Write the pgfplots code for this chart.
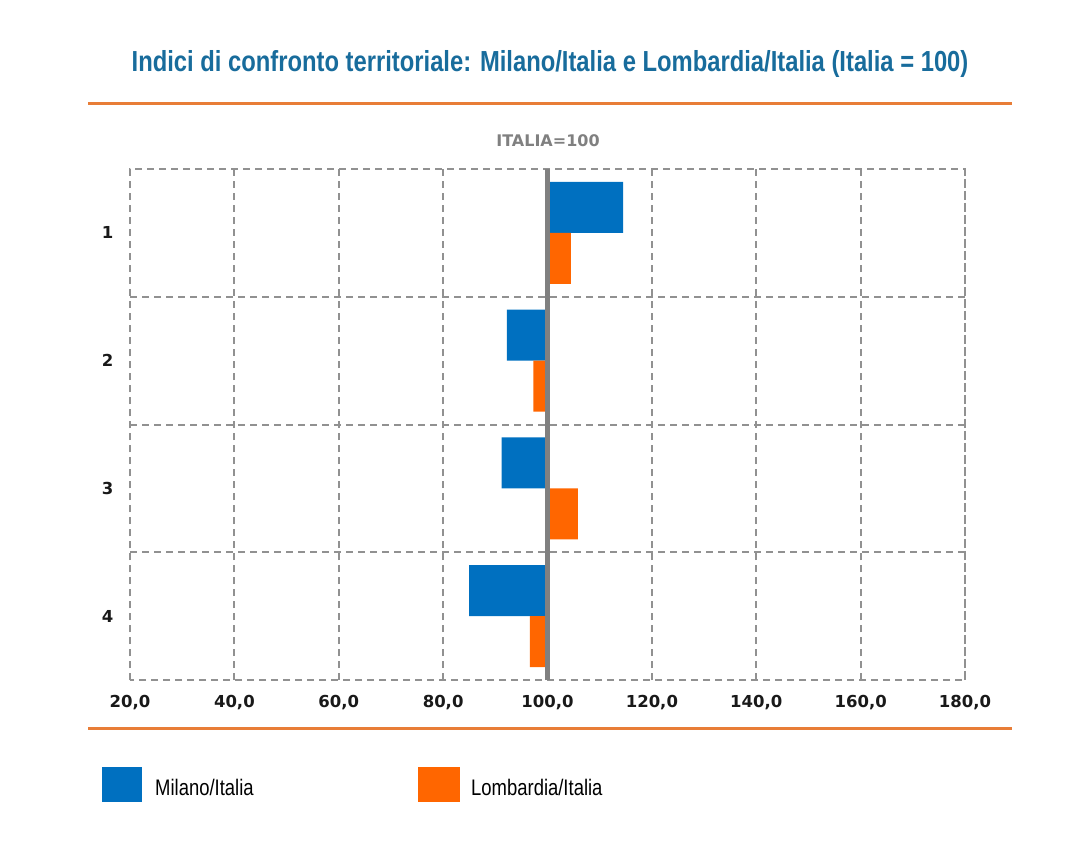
\documentclass[border=0pt]{standalone}
\usepackage{fontspec}
\usepackage{pgfplots}
\pgfplotsset{compat=1.18}
\usepackage{pgfplotstable}
\newfontfamily\narrowfont{Liberation Sans}[FakeStretch=0.82]
\newfontfamily\tickfont{DejaVu Sans}
\definecolor{titleblue}{RGB}{24,108,156}
\definecolor{rule}{RGB}{232,125,55}
\definecolor{barblue}{RGB}{0,112,192}
\definecolor{barorange}{RGB}{255,102,0}
\definecolor{gridgray}{RGB}{145,145,145}
\definecolor{refgray}{RGB}{128,128,128}
\pgfplotstableread{
row v
4 114.5
3 92.2
2 91.2
1 85.0
}\milano
\pgfplotstableread{
row v
4 104.5
3 97.3
2 105.8
1 96.6
}\lombardia
\begin{document}
\begin{tikzpicture}
\path[use as bounding box] (0,0) rectangle (1087pt,-842pt);
\node[anchor=base, text=titleblue, font=\narrowfont\bfseries\fontsize{29}{34}\selectfont] at (550pt,-72pt) {Indici di confronto territoriale: Milano/Italia e Lombardia/Italia (Italia = 100)};
\draw[rule, line width=3pt] (88pt,-104pt) -- (1012pt,-104pt);
\draw[rule, line width=3pt] (88pt,-728pt) -- (1012pt,-728pt);
\node[anchor=base, text=refgray, font=\tickfont\bfseries\fontsize{16}{19}\selectfont] at (548pt,-147pt) {ITALIA=100};
\begin{axis}[
  scale only axis,
  width=835pt, height=511pt,
  at={(130pt,-680pt)}, anchor=south west,
  xmin=-80, xmax=80,
  ymin=0.5, ymax=4.5,
  xtick={-80,-60,...,80},
  xticklabels={{20,0},{40,0},{60,0},{80,0},{100,0},{120,0},{140,0},{160,0},{180,0}},
  ytick={1,2,3,4},
  yticklabels={4,3,2,1},
  minor ytick={1.5,2.5,3.5},
  xmajorgrids=true,
  yminorgrids=true,
  major tick length=0pt, minor tick length=0pt,
  grid style={draw=gridgray, line width=2pt, dash pattern=on 7pt off 5pt},
  minor grid style={draw=gridgray, line width=2pt, dash pattern=on 7pt off 5pt},
  axis line style={draw=gridgray, line width=2pt, dash pattern=on 7pt off 5pt},
  ticklabel style={font=\tickfont\bfseries\fontsize{16.5}{19}\selectfont, text=black!90},
  xticklabel style={yshift=-12pt},
  yticklabel style={xshift=-13pt},
  clip=false,
]
\addplot[xbar, bar width=51pt, bar shift=25.5pt, fill=barblue, draw=none] table[x expr=\thisrow{v}-100, y=row] {\milano};
\addplot[xbar, bar width=51pt, bar shift=-25.5pt, fill=barorange, draw=none] table[x expr=\thisrow{v}-100, y=row] {\lombardia};
\addplot[sharp plot, draw=refgray, line width=5pt, mark=none] coordinates {(0,0.5) (0,4.5)};
\end{axis}
\fill[barblue] (102pt,-767pt) rectangle (142pt,-802pt);
\fill[barorange] (418pt,-767pt) rectangle (460pt,-802pt);
\node[anchor=base west, inner sep=0pt, font=\narrowfont\fontsize{22.5}{26}\selectfont] at (155pt,-795pt) {Milano/Italia};
\node[anchor=base west, inner sep=0pt, font=\narrowfont\fontsize{22.5}{26}\selectfont] at (471pt,-795pt) {Lombardia/Italia};
\end{tikzpicture}
\end{document}
